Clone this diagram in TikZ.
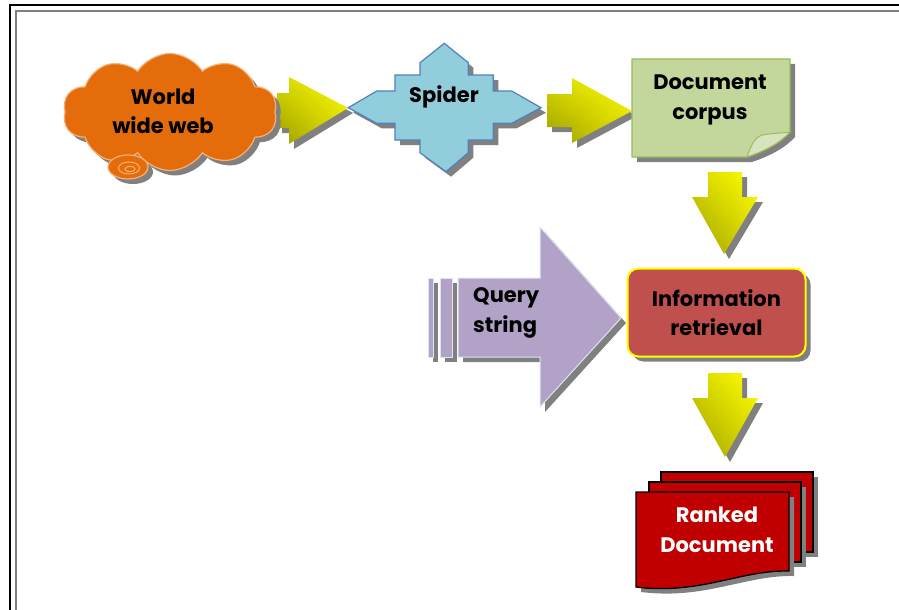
\documentclass[tikz,border=0pt]{standalone}
\usepackage{fontspec}
\setmainfont{Poppins}
\usetikzlibrary{shapes.symbols,shadows,shadings}
\definecolor{shadowgray}{HTML}{808080}
\definecolor{cloudfill}{HTML}{E46C0A}
\definecolor{cloudedge}{HTML}{F9B074}
\definecolor{spiderfill}{HTML}{92CDDC}
\definecolor{spideredge}{HTML}{4F81BD}
\definecolor{docfill}{HTML}{C3D69B}
\definecolor{docflap}{HTML}{D7E4BD}
\definecolor{docedge}{HTML}{9BBB59}
\definecolor{irfill}{HTML}{C0504D}
\definecolor{iredge}{HTML}{FFFF00}
\definecolor{queryfill}{HTML}{B2A2C7}
\definecolor{queryedge}{HTML}{DCE6F2}
\definecolor{rankfill}{HTML}{C00000}
\definecolor{arrowyellow}{HTML}{FFFF00}
\definecolor{arrowolive}{HTML}{9C9C00}
\definecolor{arrowmid}{HTML}{D8D800}
\tikzset{
  myshadow/.style={drop shadow={shadow xshift=5pt, shadow yshift=-5pt, fill=shadowgray, opacity=1}},
  flowarrow/.style={myshadow, upper right=arrowyellow, lower left=arrowolive, upper left=arrowmid, lower right=arrowmid},
  lbl/.style={font=\fontsize{21}{29.5}\selectfont\bfseries, align=center, inner sep=0pt},
}
\begin{document}
\begin{tikzpicture}[x=1pt,y=-1pt]
\useasboundingbox (0,0) rectangle (899,610);
% frame
\draw[black, line width=2pt] (9.5,5.5) rectangle (910,620);
\draw[shadowgray, line width=2pt] (15.5,11.5) rectangle (910,620);

% arrow 1 (behind cloud)
\shade[flowarrow] (277,93) -- (289,93) -- (289,77) -- (348,108) -- (289,144) -- (289,128) -- (277,128) -- cycle;

% cloud
\node[cloud, cloud puffs=10, cloud puff arc=115, aspect=1.85, minimum width=214pt, minimum height=117pt,
      fill=cloudfill, draw=cloudedge, line width=1.2pt, myshadow] (web) at (170,112) {};
\path[fill=cloudfill, draw=cloudedge, line width=1.2pt, myshadow] (128,167) ellipse [x radius=20, y radius=12];
\draw[cloudedge, line width=1pt] (129,168) ellipse [x radius=10.5, y radius=6];
\draw[cloudedge, line width=1pt] (130,169) ellipse [x radius=5, y radius=2.8];
\node[lbl] (webtext) at (163,111.5) {World\\wide web};

% spider
\path[fill=spiderfill, draw=spideredge, line width=1.2pt, myshadow]
  (444.3,43.3) -- (468.3,62.7) -- (468.3,75) -- (493.3,75) -- (493.3,91) -- (511.7,91) -- (541,107.7)
  -- (511.7,123.3) -- (493.3,123.3) -- (493.3,140) -- (468.3,140) -- (468.3,152.7) -- (446,171.7)
  -- (420,152.7) -- (420,140) -- (395,140) -- (395,123.3) -- (376.7,123.3) -- (348.3,107.7)
  -- (376.7,91) -- (395,91) -- (395,75) -- (420,75) -- (420,62.7) -- cycle;
\node[lbl] (spider) at (444,97) {Spider};

% arrow 2
\shade[flowarrow] (547,94) -- (572,94) -- (572,78) -- (632,111) -- (572,143) -- (572,127) -- (547,127) -- cycle;

% document corpus
\path[fill=docfill, draw=docedge, line width=1.2pt, myshadow]
  (632,59) -- (790,59) -- (790,132) .. controls (780,143) and (765,151) .. (747,157) -- (632,157) -- cycle;
\path[fill=docflap, draw=docedge, line width=1pt]
  (747,157) .. controls (751,146) and (754,138) .. (762,135) .. controls (774,133) and (784,133) .. (790,132)
  .. controls (780,143) and (765,151) .. (747,157) -- cycle;
\node[lbl] (corpus) at (710,100) {Document\\corpus};

% down arrow 1
\shade[flowarrow] (708,172) -- (742,172) -- (742,197) -- (758,197) -- (724,254) -- (692,197) -- (708,197) -- cycle;

% query string arrow
\path[fill=queryfill, draw=queryedge, line width=1pt, myshadow] (428,278) rectangle (433,357);
\path[fill=queryfill, draw=queryedge, line width=1pt, myshadow] (440,278) rectangle (452,357);
\path[fill=queryfill, draw=queryedge, line width=1pt, myshadow]
  (458,278) -- (540,278) -- (540,227) -- (621,318) -- (540,407) -- (540,357) -- (458,357) -- cycle;
\node[lbl, align=left, anchor=west] (query) at (473,313) {Query\\string};

% information retrieval
\node[lbl, minimum width=178pt, minimum height=88pt, rounded corners=11pt, fill=irfill, draw=iredge,
      line width=2pt, myshadow] (ir) at (716.5,312.5) {Information\\retrieval};

% down arrow 2
\shade[flowarrow] (708,373) -- (742,373) -- (742,398) -- (758,398) -- (725,457) -- (692,398) -- (708,398) -- cycle;

% ranked documents
\path[fill=rankfill, draw=black, line width=1.3pt, myshadow] (661,472) rectangle (813,552);
\path[fill=rankfill, draw=black, line width=1.3pt, myshadow] (649,482) rectangle (801,562);
\path[fill=rankfill, draw=black, line width=1.3pt, myshadow]
  (636,492) -- (789,492) -- (789,571) .. controls (740,570) and (700,595) .. (636,587) -- cycle;
\node[lbl, text=white] (ranked) at (717,530) {Ranked\\Document};
\end{tikzpicture}
\end{document}
